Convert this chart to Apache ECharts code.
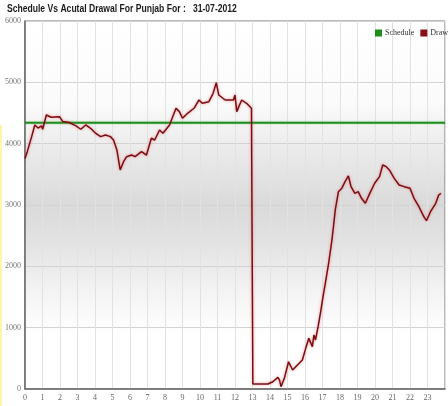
<!DOCTYPE html>
<html><head><meta charset="utf-8">
<script src="https://cdn.jsdelivr.net/npm/echarts@6/dist/echarts.min.js"></script>
<style>html,body{margin:0;padding:0;background:#fff}#c{width:448px;height:406px}</style>
</head><body><div id="c"></div>
<script>
const titleText = 'Schedule Vs Acutal Drawal For Punjab For :   31-07-2012';
const seriesNames = ['Schedule', 'Drawal'];
const xTicks = [0,1,2,3,4,5,6,7,8,9,10,11,12,13,14,15,16,17,18,19,20,21,22,23];
const yTicks = [0,1000,2000,3000,4000,5000,6000];
const scheduleHours = [0, 24];
const scheduleValues = [4340, 4340];
const drawalHours = [0.00,0.13,0.38,0.56,0.75,0.94,1.01,1.22,1.50,1.97,2.16,2.53,2.91,3.19,3.47,3.75,4.03,4.32,4.60,4.88,5.06,5.25,5.44,5.63,5.81,6.09,6.29,6.66,6.94,7.22,7.41,7.69,7.88,8.26,8.63,8.82,9.00,9.29,9.66,9.94,10.13,10.51,10.75,10.93,11.07,11.44,11.91,12.00,12.10,12.38,12.66,12.94,13.00,13.02,13.88,14.16,14.45,14.54,14.63,14.82,15.06,15.29,15.57,15.85,16.04,16.22,16.42,16.51,16.60,16.75,16.88,17.03,17.16,17.35,17.54,17.73,17.91,18.10,18.29,18.48,18.63,18.85,19.04,19.23,19.45,19.70,19.98,20.26,20.44,20.64,20.82,21.10,21.38,21.67,22.00,22.23,22.51,22.79,22.94,23.17,23.47,23.64,23.77];
const drawalValues = [3760,3870,4115,4305,4255,4290,4235,4467,4430,4440,4360,4345,4290,4235,4305,4250,4170,4115,4140,4115,4060,3897,3571,3706,3788,3815,3788,3870,3815,4088,4060,4223,4170,4305,4577,4522,4414,4495,4577,4712,4658,4685,4821,4995,4794,4712,4712,4794,4522,4712,4658,4577,4577,81,81,119,190,150,38,174,445,310,391,473,663,826,690,880,800,1016,1234,1505,1723,2050,2430,2919,3217,3272,3380,3473,3299,3190,3217,3109,3028,3190,3354,3462,3652,3625,3571,3435,3326,3299,3272,3109,2972,2810,2744,2891,3028,3163,3190];

const chart = echarts.init(document.getElementById('c'), null, {renderer:'canvas'});
const zip = (a,b) => a.map((v,i)=>[v,b[i]]);
const serif = '"Liberation Serif","DejaVu Serif",serif';
chart.setOption({
  animation:false,
  backgroundColor:'#fff',
  graphic:[
    {type:'text', left:7, top:3, scaleX:0.78, z:10,
     style:{text:titleText, font:'bold 11px "Liberation Sans", Arial, sans-serif', fill:'#1a1a1a'}},
    {type:'rect', shape:{x:0,y:125,width:2,height:281}, style:{fill:'#fff7a8'}, z:10}
  ],
  legend:{
    data:seriesNames, orient:'horizontal', left:375, top:29, width:160, padding:0,
    icon:'rect', itemWidth:7, itemHeight:7, itemGap:6,
    textStyle:{fontFamily:serif, fontSize:8, color:'#333', padding:[0,0,0,-2]}
  },
  grid:{left:25, top:21, width:426, height:368, show:true, borderColor:'#777', borderWidth:1,
    backgroundColor:{type:'linear',x:0,y:0,x2:0,y2:1,colorStops:[
      {offset:0,color:'#ffffff'},{offset:0.22,color:'#fbfbfb'},{offset:0.34,color:'#ececec'},
      {offset:0.5,color:'#dadada'},{offset:0.6,color:'#e2e2e2'},{offset:0.73,color:'#f3f3f3'},
      {offset:0.85,color:'#ffffff'},{offset:1,color:'#ffffff'}]}},
  xAxis:{type:'value', min:0, max:24, interval:1,
    axisLine:{lineStyle:{color:'#666', width:1.5}}, axisTick:{show:false},
    axisLabel:{fontFamily:serif, fontSize:8, color:'#666', margin:5,
      formatter:v => xTicks.includes(v) ? String(v) : ''},
    splitLine:{show:true, lineStyle:{color:'#e2e2e2', width:1}}},
  yAxis:{type:'value', min:0, max:6000, interval:1000,
    axisLine:{show:true, lineStyle:{color:'#666', width:1.5}}, axisTick:{show:false},
    axisLabel:{fontFamily:serif, fontSize:8, color:'#777', margin:4,
      formatter:v => yTicks.includes(v) ? String(v) : ''},
    splitLine:{show:true, lineStyle:{color:'#d2d2d2', width:1}}},
  series:[
    {name:seriesNames[0], type:'line', data:zip(scheduleHours, scheduleValues), symbol:'none',
     color:'#1a8f1a', lineStyle:{width:2, color:'#1e8f1e', shadowColor:'rgba(60,180,60,0.5)', shadowBlur:2}},
    {name:seriesNames[1], type:'line', data:zip(drawalHours, drawalValues), symbol:'none',
     color:'#8b0f16', lineStyle:{width:1.5, color:'#7a0c12', shadowColor:'rgba(230,70,70,0.6)', shadowBlur:3}}
  ]
});
</script></body></html>
